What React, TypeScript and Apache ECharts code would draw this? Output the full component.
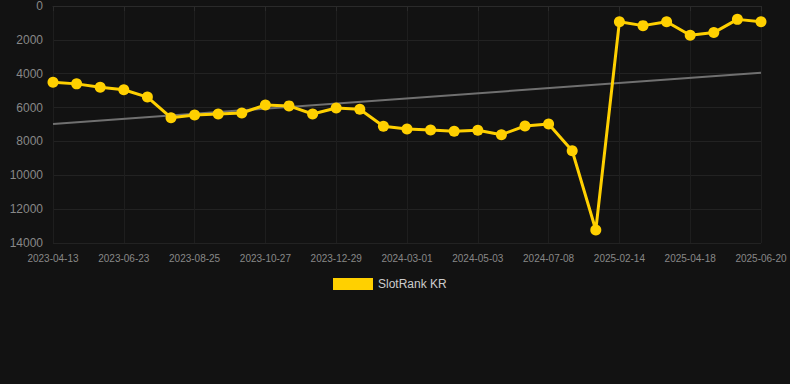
import React, { useEffect, useRef } from "react";
import * as echarts from "echarts";

const categories = [
  "2023-04-13", "2023-05-05", "2023-05-29", "2023-06-23", "2023-07-14", "2023-08-04",
  "2023-08-25", "2023-09-15", "2023-10-06", "2023-10-27", "2023-11-17", "2023-12-08",
  "2023-12-29", "2024-01-19", "2024-02-09", "2024-03-01", "2024-03-22", "2024-04-12",
  "2024-05-03", "2024-05-24", "2024-06-14", "2024-07-08", "2024-07-29", "2024-08-19",
  "2025-02-14", "2025-03-07", "2025-03-28", "2025-04-18", "2025-05-09", "2025-05-30",
  "2025-06-20",
];

const rankValues = [
  4500, 4600, 4800, 4950, 5380, 6600, 6440, 6380, 6320, 5850, 5900, 6380, 6030, 6100,
  7100, 7260, 7320, 7400, 7340, 7600, 7090, 6970, 8550, 13230, 930, 1160, 930, 1730,
  1570, 790, 930,
];

const trendStart = 6970;
const trendEnd = 3940;

export default function App() {
  const ref = useRef<HTMLDivElement>(null);
  useEffect(() => {
    document.body.style.margin = "0";
    document.body.style.background = "#121212";
    if (!ref.current) return;
    const chart = echarts.init(ref.current, null, { renderer: "svg" });
    chart.setOption({
      animation: false,
      backgroundColor: "#121212",
      grid: { left: 53, right: 29, top: 6, bottom: 141, containLabel: false },
      legend: {
        data: [{ name: "SlotRank KR", icon: "rect" }],
        top: 273,
        left: 328,
        itemWidth: 40,
        itemHeight: 12,
        itemGap: 6,
        textStyle: { color: "#cccccc", fontSize: 12, fontFamily: "Liberation Sans, Arial, sans-serif" },
      },
      xAxis: {
        type: "category",
        data: categories,
        boundaryGap: false,
        axisLine: { show: true, lineStyle: { color: "#2a2a2a" } },
        axisTick: { show: true, interval: 2, lineStyle: { color: "#2a2a2a" } },
        axisLabel: {
          interval: 2,
          color: "#888888",
          fontSize: 10,
          margin: 10,
          fontFamily: "Liberation Sans, Arial, sans-serif",
        },
        splitLine: { show: true, interval: 2, lineStyle: { color: "#1e1e1e" } },
      },
      yAxis: {
        type: "value",
        inverse: true,
        min: 0,
        max: 14000,
        interval: 2000,
        axisLine: { show: false },
        axisTick: { show: false },
        axisLabel: {
          color: "#888888",
          fontSize: 12,
          margin: 10,
          formatter: (v: number) => String(v),
          fontFamily: "Liberation Sans, Arial, sans-serif",
        },
        splitLine: { show: true, lineStyle: { color: "#222222" } },
      },
      series: [
        {
          name: "trend",
          type: "line",
          data: [
            [0, trendStart],
            [categories.length - 1, trendEnd],
          ],
          symbol: "none",
          lineStyle: { color: "#707070", width: 2 },
          silent: true,
          z: 1,
        },
        {
          name: "SlotRank KR",
          type: "line",
          data: rankValues,
          symbol: "circle",
          symbolSize: 11,
          itemStyle: { color: "#ffd000" },
          lineStyle: { color: "#ffd000", width: 3 },
          z: 3,
        },
      ],
    });
    return () => chart.dispose();
  }, []);
  return <div ref={ref} style={{ width: 790, height: 384 }} />;
}
